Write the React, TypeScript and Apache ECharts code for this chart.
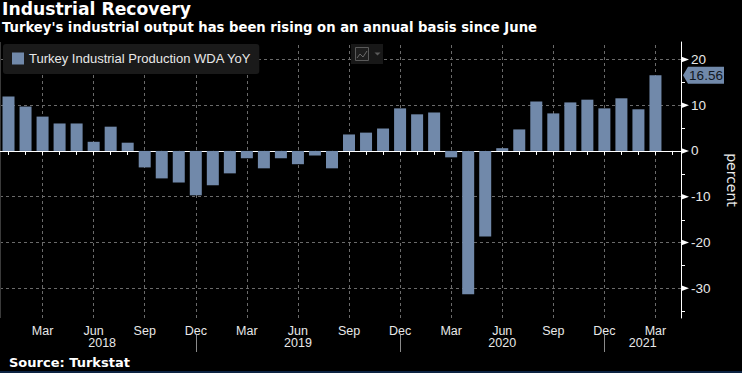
import React, { useEffect, useRef } from 'react';
import * as echarts from 'echarts';

const CATEGORIES = [
  '2018-01', '2018-02', '2018-03', '2018-04', '2018-05', '2018-06',
  '2018-07', '2018-08', '2018-09', '2018-10', '2018-11', '2018-12',
  '2019-01', '2019-02', '2019-03', '2019-04', '2019-05', '2019-06',
  '2019-07', '2019-08', '2019-09', '2019-10', '2019-11', '2019-12',
  '2020-01', '2020-02', '2020-03', '2020-04', '2020-05', '2020-06',
  '2020-07', '2020-08', '2020-09', '2020-10', '2020-11', '2020-12',
  '2021-01', '2021-02', '2021-03', '2021-04',
];

const VALUES: (number | null)[] = [
  11.9, 9.7, 7.5, 6.0, 6.0, 2.0, 5.3, 1.8, -3.6, -6.0, -6.9, -9.7,
  -7.5, -4.9, -1.6, -3.8, -1.6, -2.9, -1.0, -3.8, 3.6, 4.0, 4.9, 9.3,
  8.0, 8.4, -1.4, -31.3, -18.7, 0.6, 4.7, 10.8, 8.2, 10.6, 11.2, 9.3,
  11.5, 9.1, 16.56, null,
];

const QUARTER_LABELS: Record<string, string> = { '03': 'Mar', '06': 'Jun', '09': 'Sep', '12': 'Dec' };
const Y_MAJOR_TICKS = [-30, -20, -10, 0, 10, 20];
const Y_MINOR_TICKS = [-35, -25, -15, -5, 5, 15];
const YEAR_SPANS = [
  { label: '2018', from: '2018-01', to: '2018-12' },
  { label: '2019', from: '2018-12', to: '2019-12' },
  { label: '2020', from: '2019-12', to: '2020-12' },
  { label: '2021', from: '2020-12', to: null },
];
const YEAR_SEPARATORS = ['2018-12', '2019-12', '2020-12'];
const SERIES_NAME = 'Turkey Industrial Production WDA YoY';

const BAR_COLOR = '#7189aa';
const TEXT_COLOR = '#e8e8e8';
const GRID_COLOR = '#6a6a6a';
const GRID = { left: 0, right: 61, top: 42, bottom: 55 };
const Y_MIN = -36.5;
const Y_MAX = 23.8;

export default function App() {
  const ref = useRef<HTMLDivElement>(null);

  useEffect(() => {
    document.body.style.margin = '0';
    document.body.style.background = '#000';
    const chart = echarts.init(ref.current!, null, { renderer: 'svg' });

    const quarterCats = CATEGORIES.filter((c) => QUARTER_LABELS[c.slice(5)]);

    chart.setOption({
      animation: false,
      backgroundColor: '#000',
      title: [
        {
          text: 'Industrial Recovery', left: 2, top: 0, padding: 0,
          textStyle: { color: '#ffffff', fontFamily: 'DejaVu Sans', fontWeight: 'bold', fontSize: 17.2 },
        },
        {
          text: "Turkey's industrial output has been rising on an annual basis since June",
          left: 2, top: 21, padding: 0,
          textStyle: { color: '#ffffff', fontFamily: 'DejaVu Sans', fontWeight: 'bold', fontSize: 13.2 },
        },
        {
          text: 'Source: Turkstat', left: 9, top: 356, padding: 0,
          textStyle: { color: '#ffffff', fontFamily: 'DejaVu Sans', fontWeight: 'bold', fontSize: 13 },
        },
      ],
      legend: {
        left: 3, top: 44, padding: [8, 8, 9, 9],
        backgroundColor: '#1a1a1a', borderRadius: 3,
        icon: 'rect', itemWidth: 12, itemHeight: 12, itemGap: 5,
        textStyle: { color: TEXT_COLOR, fontFamily: 'Liberation Sans', fontSize: 13 },
        data: [SERIES_NAME],
      },
      grid: { ...GRID, containLabel: false, outerBoundsMode: 'none' },
      xAxis: {
        type: 'category',
        data: CATEGORIES,
        boundaryGap: true,
        axisLine: { show: true, lineStyle: { color: '#ffffff', width: 1 } },
        axisTick: { show: true, alignWithLabel: true, interval: 0, length: 4, lineStyle: { color: '#ffffff' } },
        axisLabel: {
          interval: 0, margin: 6, color: TEXT_COLOR, fontFamily: 'Liberation Sans', fontSize: 12.5,
          formatter: (v: string) => QUARTER_LABELS[v.slice(5)] || '',
        },
        splitLine: { show: false },
      },
      yAxis: {
        type: 'value',
        position: 'right',
        min: Y_MIN,
        max: Y_MAX,
        splitNumber: 6,
        axisLine: { show: true, lineStyle: { color: '#ffffff', width: 1 } },
        axisTick: { show: false },
        axisLabel: {
          margin: 10, color: TEXT_COLOR, fontFamily: 'Liberation Sans', fontSize: 13.5,
          showMinLabel: false, showMaxLabel: false,
        },
        splitLine: {
          show: true, showMinLine: false, showMaxLine: false,
          lineStyle: { color: GRID_COLOR, type: [3, 3], width: 1 },
        },
        name: 'percent',
        nameLocation: 'middle',
        nameRotate: -90,
        nameGap: 44,
        nameTextStyle: { color: TEXT_COLOR, fontFamily: 'DejaVu Sans', fontSize: 14 },
      },
      series: [
        {
          name: SERIES_NAME,
          type: 'bar',
          data: VALUES,
          barWidth: 12,
          itemStyle: { color: BAR_COLOR },
          markLine: {
            silent: true,
            symbol: ['none', 'none'],
            label: { show: false },
            lineStyle: { color: GRID_COLOR, type: [3, 3], width: 1 },
            data: quarterCats.map((c) => ({ xAxis: c })),
            z: 0,
          },
        },
      ],
    });

    const px = (c: string) => chart.convertToPixel({ xAxisIndex: 0 }, c) as number;
    const py = (v: number) => chart.convertToPixel({ yAxisIndex: 0 }, v) as number;
    const axisX = chart.getWidth() - GRID.right;
    const gridTop = GRID.top;
    const gridBottom = chart.getHeight() - GRID.bottom;

    const graphics: any[] = [];

    // right-axis arrow ticks
    Y_MAJOR_TICKS.forEach((v) => {
      const y = py(v);
      graphics.push({
        type: 'polygon', silent: true,
        shape: { points: [[axisX, y - 3], [axisX + 8, y], [axisX, y + 3]] },
        style: { fill: '#ffffff' },
      });
    });
    Y_MINOR_TICKS.forEach((v) => {
      const y = Math.round(py(v)) + 0.5;
      graphics.push({
        type: 'line', silent: true,
        shape: { x1: axisX, y1: y, x2: axisX + 4, y2: y },
        style: { stroke: '#ffffff', lineWidth: 1 },
      });
    });

    // left border line
    graphics.push({
      type: 'line', silent: true,
      shape: { x1: 0.5, y1: gridTop, x2: 0.5, y2: gridBottom },
      style: { stroke: '#3a3a3a', lineWidth: 1 },
    });

    // year labels and separators
    YEAR_SPANS.forEach((s) => {
      const x1 = px(s.from);
      const x2 = s.to ? px(s.to) : axisX;
      graphics.push({
        type: 'text', silent: true,
        x: (x1 + x2) / 2, y: 343,
        style: {
          text: s.label, fill: TEXT_COLOR, font: '12.5px "Liberation Sans"',
          align: 'center', verticalAlign: 'middle',
        },
      });
    });
    YEAR_SEPARATORS.forEach((c) => {
      const x = Math.round(px(c)) + 0.5;
      graphics.push({
        type: 'line', silent: true,
        shape: { x1: x, y1: 335, x2: x, y2: 352 },
        style: { stroke: '#8a8a8a', lineWidth: 1 },
      });
    });

    // last value flag
    let lastVal = 0;
    VALUES.forEach((v) => { if (v !== null) lastVal = v; });
    const fy = py(lastVal);
    graphics.push({
      type: 'polygon', silent: true,
      shape: { points: [[axisX + 2, fy], [axisX + 7, fy - 8.5], [axisX + 43, fy - 8.5], [axisX + 43, fy + 8.5], [axisX + 7, fy + 8.5]] },
      style: { fill: BAR_COLOR },
    });
    graphics.push({
      type: 'text', silent: true,
      x: axisX + 25, y: fy,
      style: {
        text: lastVal.toFixed(2), fill: '#111822', font: '13.5px "Liberation Sans"',
        align: 'center', verticalAlign: 'middle',
      },
    });

    // chart-type icon
    graphics.push({
      type: 'rect', silent: true,
      shape: { x: 351, y: 44, width: 32, height: 20 },
      style: { fill: '#181818' },
    });
    graphics.push({
      type: 'rect', silent: true,
      shape: { x: 355.5, y: 47.5, width: 13, height: 13 },
      style: { fill: '#1e1e1e', stroke: '#5a5a5a', lineWidth: 1 },
    });
    graphics.push({
      type: 'polyline', silent: true,
      shape: { points: [[357, 58], [360, 54], [363, 57], [367, 51]] },
      style: { stroke: '#6a6a6a', lineWidth: 1, fill: null },
    });
    graphics.push({
      type: 'polygon', silent: true,
      shape: { points: [[374.5, 52.5], [380.5, 52.5], [377.5, 55.5]] },
      style: { fill: '#5a5a5a' },
    });

    // bottom strip
    graphics.push({
      type: 'rect', silent: true,
      shape: { x: 0, y: 371, width: chart.getWidth(), height: 2 },
      style: { fill: '#0c2342' },
    });

    chart.setOption({ graphic: graphics });

    return () => chart.dispose();
  }, []);

  return (
    <div
      ref={ref}
      style={{ position: 'fixed', left: 0, top: 0, width: 742, height: 373, background: '#000' }}
    />
  );
}
